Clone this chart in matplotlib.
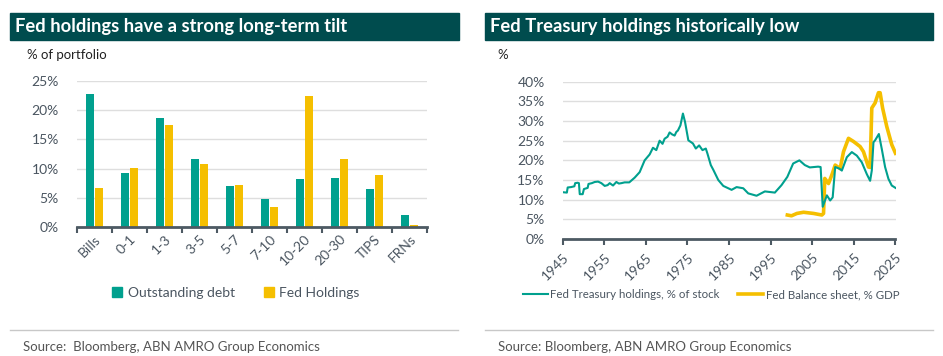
import matplotlib
matplotlib.use("Agg")
import matplotlib.pyplot as plt
from matplotlib.patches import Rectangle
from matplotlib.lines import Line2D
import numpy as np

plt.rcParams['font.family'] = ['Lato', 'DejaVu Sans']

# ---------------- data ----------------
categories = ["Bills", "0-1", "1-3", "3-5", "5-7", "7-10", "10-20", "20-30", "TIPS", "FRNs"]
outstanding_debt = [22.7, 9.2, 18.6, 11.6, 7.1, 4.9, 8.2, 8.4, 6.6, 2.1]
fed_holdings = [6.7, 10.1, 17.5, 10.8, 7.2, 3.5, 22.4, 11.7, 9.0, 0.4]
left_yticks = [0, 5, 10, 15, 20, 25]

tsy_years = [1945.0, 1946.0, 1946.2, 1947.0, 1947.8, 1948.0, 1948.6, 1948.9, 1949.1, 1949.8,
             1950.1, 1951.0, 1951.2, 1952.0, 1952.7, 1953.5, 1954.3, 1955.1, 1955.8, 1956.3,
             1957.1, 1957.9, 1958.5, 1959.1, 1959.9, 1961.0, 1962.3, 1963.5, 1964.7, 1965.9,
             1966.7, 1967.5, 1968.3, 1969.0, 1969.5, 1970.2, 1970.7, 1971.3, 1971.9, 1972.3,
             1972.7, 1973.3, 1973.9, 1974.4, 1975.2, 1976.3, 1977.0, 1977.8, 1978.6, 1979.4,
             1979.8, 1980.6, 1981.2, 1982.4, 1983.6, 1985.6, 1986.8, 1988.4, 1989.6, 1991.6,
             1993.6, 1996.0, 1997.6, 1999.0, 2000.4, 2001.9, 2003.2, 2004.4, 2006.4, 2007.0,
             2007.5, 2008.5, 2009.3, 2009.9, 2010.5, 2011.5, 2012.1, 2013.3, 2014.5, 2015.7,
             2016.9, 2018.1, 2018.9, 2019.3, 2019.7, 2020.1, 2021.0, 2021.7, 2022.5, 2023.3,
             2024.1, 2025.0]
tsy_values = [11.9, 11.8, 13.1, 13.2, 13.4, 14.2, 14.3, 14.2, 11.4, 11.4,
              12.7, 13.0, 14.0, 14.2, 14.5, 14.6, 14.2, 13.5, 13.7, 14.2,
              13.6, 14.5, 14.1, 14.2, 14.4, 14.4, 15.6, 17.0, 20.0, 21.5,
              23.2, 22.6, 25.0, 24.2, 25.5, 26.0, 27.1, 26.6, 26.3, 27.2,
              27.6, 28.9, 31.9, 29.8, 25.1, 24.3, 23.0, 23.8, 22.6, 23.0,
              21.7, 18.8, 17.6, 15.0, 13.5, 12.5, 13.2, 12.9, 11.6, 11.0,
              12.1, 11.8, 13.7, 15.8, 19.2, 20.0, 18.8, 18.2, 18.4, 18.3,
              8.2, 11.1, 9.8, 10.6, 18.3, 17.9, 17.4, 20.8, 22.1, 21.2,
              19.5, 16.5, 14.8, 17.4, 24.6, 25.1, 26.7, 22.9, 18.3, 15.3,
              13.6, 13.0]

bs_years = [1999.0, 2000.0, 2001.3, 2002.9, 2005.3, 2007.3, 2007.7, 2008.0, 2008.9, 2009.7,
            2010.5, 2011.7, 2012.5, 2013.7, 2014.9, 2016.5, 2017.3, 2018.5, 2018.9, 2019.3,
            2020.1, 2020.9, 2021.3, 2021.9, 2022.9, 2024.1, 2025.0]
bs_values = [6.1, 5.9, 6.5, 6.8, 6.5, 6.1, 6.5, 15.4, 14.1, 16.3,
             18.8, 17.9, 22.2, 25.6, 24.8, 23.5, 22.2, 18.3, 18.2, 33.3,
             34.6, 37.2, 37.2, 33.3, 28.6, 24.0, 21.8]
right_xticks = [1945, 1955, 1965, 1975, 1985, 1995, 2005, 2015, 2025]
right_yticks = [0, 5, 10, 15, 20, 25, 30, 35, 40]

# ---------------- style ----------------
TEAL = "#00a08e"
YELLOW = "#f5bf00"
BANNER = "#004c4e"
GRID = "#dedede"
AXIS = "#4d5a63"
TXT = "#4a5560"

W, H = 943, 356
fig = plt.figure(figsize=(W / 100, H / 100), dpi=100)


def fx(px):
    return px / W


def fy(py):
    return 1 - py / H


def banner(x0, x1, text):
    fig.patches.append(Rectangle((fx(x0), fy(40)), fx(x1) - fx(x0), fy(13) - fy(40),
                                 transform=fig.transFigure, color=BANNER, zorder=0))
    fig.text(fx(x0 + 5), fy(26.5), text, color="white", fontsize=13.2, fontweight="bold",
             va="center", ha="left")


banner(10, 459, "Fed holdings have a strong long-term tilt")
banner(485, 933, "Fed Treasury holdings historically low")
fig.text(fx(27), fy(55), "% of portfolio", fontsize=9.5, color="#222222", va="center")
fig.text(fx(497), fy(55), "%", fontsize=9.5, color="#222222", va="center")


def style_axes(ax):
    for s in ["top", "right", "left"]:
        ax.spines[s].set_visible(False)
    ax.spines["bottom"].set_color(AXIS)
    ax.spines["bottom"].set_linewidth(2)
    ax.tick_params(axis="y", length=0, labelsize=10, labelcolor=TXT, pad=12)
    ax.tick_params(axis="x", length=4, width=1.5, color=AXIS, labelsize=10, labelcolor=TXT)
    ax.grid(axis="y", color=GRID, linewidth=1)
    ax.set_axisbelow(True)


# ---------------- left chart ----------------
axL = fig.add_axes([fx(77), fy(227.3), fx(427) - fx(77), fy(80.7) - fy(227.3)])
x = np.arange(len(categories))
bw = 0.23
axL.bar(x - 0.125, outstanding_debt, width=bw, color=TEAL, label="Outstanding debt", zorder=2)
axL.bar(x + 0.125, fed_holdings, width=bw, color=YELLOW, label="Fed Holdings", zorder=2)
axL.set_xlim(-0.5, len(categories) - 0.5)
axL.set_ylim(0, 25)
axL.set_yticks(left_yticks)
axL.set_yticklabels([f"{v}%" for v in left_yticks])
axL.set_xticks(np.arange(len(categories) + 1) - 0.5)
axL.set_xticklabels([])
axL.set_xticks(x, minor=True)
axL.set_xticklabels(categories, minor=True, rotation=45, ha="right", va="top",
                    rotation_mode="anchor", fontsize=10, color=TXT)
axL.tick_params(axis="x", which="minor", length=0, pad=4)
style_axes(axL)
axL.tick_params(axis="y", pad=13)

h1 = Line2D([], [], marker="s", linestyle="none", color=TEAL, markersize=7)
h2 = Line2D([], [], marker="s", linestyle="none", color=YELLOW, markersize=7)
fig.legend([h1, h2], ["Outstanding debt", "Fed Holdings"], loc="center",
           bbox_to_anchor=(fx(236), fy(293)), ncol=2, frameon=False, fontsize=10,
           labelcolor=TXT, handlelength=0.7, handletextpad=0.4, columnspacing=2.1)

# ---------------- right chart ----------------
axR = fig.add_axes([fx(562.7), fy(239), fx(895.5) - fx(562.7), fy(81.7) - fy(239)])
axR.plot(tsy_years, tsy_values, color=TEAL, linewidth=1.5, zorder=3,
         label="Fed Treasury holdings, % of stock")
axR.plot(bs_years, bs_values, color=YELLOW, linewidth=2.6, zorder=2,
         label="Fed Balance sheet, % GDP")
axR.set_xlim(1945, 2025)
axR.set_ylim(0, 40)
axR.set_yticks(right_yticks)
axR.set_yticklabels([f"{v}%" for v in right_yticks])
axR.set_xticks(right_xticks)
axR.set_xticklabels([str(v) for v in right_xticks], rotation=45, ha="right", va="top",
                    rotation_mode="anchor")
style_axes(axR)
axR.tick_params(axis="y", pad=13)
axR.tick_params(axis="x", pad=5)

fig.legend(handles=axR.get_lines(), loc="center", bbox_to_anchor=(fx(711), fy(295)),
           ncol=2, frameon=False, fontsize=8.3, labelcolor=TXT, handlelength=2.2,
           handletextpad=0.2, columnspacing=1.6)

# ---------------- footers ----------------
fig.add_artist(Line2D([fx(10), fx(458)], [fy(330), fy(330)], color="#c8c8c8", linewidth=1))
fig.add_artist(Line2D([fx(485), fx(933)], [fy(330), fy(330)], color="#c8c8c8", linewidth=1))
fig.text(fx(23), fy(347), "Source:  Bloomberg, ABN AMRO Group Economics", fontsize=9.5,
         color="#555555", va="center")
fig.text(fx(498), fy(347), "Source: Bloomberg, ABN AMRO Group Economics", fontsize=9.5,
         color="#555555", va="center")

fig.savefig("out.png", dpi=100)
